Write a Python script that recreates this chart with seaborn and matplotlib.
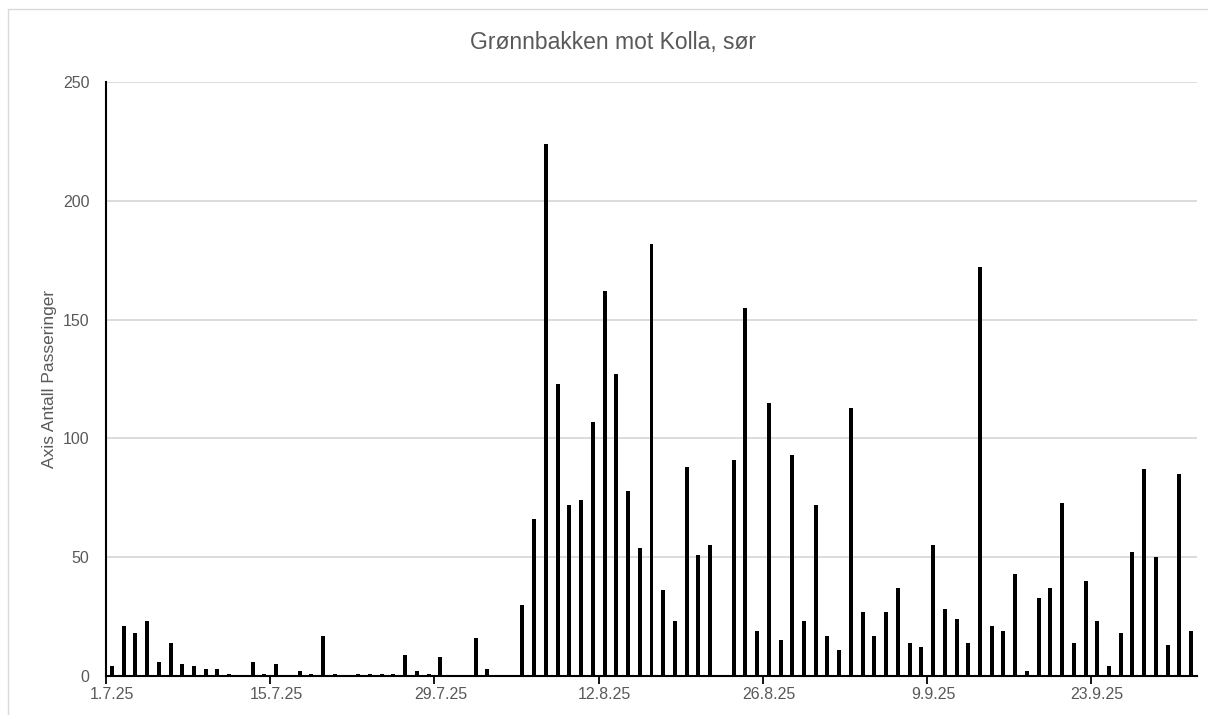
import matplotlib
matplotlib.use("Agg")
import matplotlib.pyplot as plt
from matplotlib.lines import Line2D
import seaborn as sns
import pandas as pd
import numpy as np

# ---- data ----
dates = pd.date_range("2025-07-01", periods=93, freq="D")
values = [4, 21, 18, 23, 6, 14, 5, 4, 3, 3,
          1, 0, 6, 1, 5, 0, 2, 1, 17, 1,
          0, 1, 1, 1, 1, 9, 2, 1, 8, 0,
          0, 16, 3, 0, 0, 30, 66, 224, 123, 72,
          74, 107, 162, 127, 78, 54, 182, 36, 23, 88,
          51, 55, 0, 91, 155, 19, 115, 15, 93, 23,
          72, 17, 11, 113, 27, 17, 27, 37, 14, 12,
          55, 28, 24, 14, 172, 21, 19, 43, 2, 33,
          37, 73, 14, 40, 23, 4, 18, 52, 87, 50,
          13, 85, 19]
tick_labels = ["1.7.25", "15.7.25", "29.7.25", "12.8.25", "26.8.25", "9.9.25", "23.9.25"]
y_ticks = [0, 50, 100, 150, 200, 250]
title = "Grønnbakken mot Kolla, sør"
ylabel = "Axis Antall Passeringer"

df = pd.DataFrame({"dato": [d.strftime("%d.%m.%y") for d in dates], "antall": values})

sns.set_theme(style="white")
plt.rcParams["font.family"] = ["Liberation Sans", "DejaVu Sans"]

TXT = "#595959"
fig = plt.figure(figsize=(12.08, 7.15), dpi=100)
ax = fig.add_axes([106 / 1208, 39 / 715, (1197 - 106) / 1208, (676 - 82) / 715])

sns.barplot(data=df, x="dato", y="antall", color="black", saturation=1,
            width=0.34, linewidth=0, ax=ax, order=list(df["dato"]))

ax.set_xlim(-0.5, len(values) - 0.5)
ax.set_ylim(0, 250)
ax.set_yticks(y_ticks)
ax.set_yticklabels([str(v) for v in y_ticks], color=TXT, fontsize=11.5)
ax.tick_params(axis="y", length=0, pad=12)

# labels centred on day slots, tick marks at slot boundaries
label_pos = [0, 14, 28, 42, 56, 70, 84]
ax.set_xticks(label_pos)
ax.set_xticklabels(tick_labels, color=TXT, fontsize=11.5)
ax.tick_params(axis="x", which="major", length=0, pad=8)
ax.set_xticks([p - 0.5 for p in label_pos], minor=True)
ax.tick_params(axis="x", which="minor", length=6, width=1.3, color="black", direction="out", bottom=True)

ax.grid(axis="y", color="#d9d9d9", linewidth=1.3)
ax.set_axisbelow(True)
for s in ["top", "right"]:
    ax.spines[s].set_visible(False)
ax.spines["left"].set_color("black")
ax.spines["left"].set_linewidth(1.5)
ax.spines["bottom"].set_color("black")
ax.spines["bottom"].set_linewidth(1.5)

ax.set_xlabel("")
ax.set_ylabel(ylabel, color=TXT, fontsize=12.5, labelpad=4)

fig.text(613 / 1208, 1 - 42 / 715, title, ha="center", va="center", color=TXT, fontsize=16.5)

# chart-area border (light grey)
fig.add_artist(Line2D([8 / 1208, 1.0], [1 - 9 / 715, 1 - 9 / 715], transform=fig.transFigure, color="#d9d9d9", lw=1))
fig.add_artist(Line2D([8 / 1208, 8 / 1208], [0, 1 - 9 / 715], transform=fig.transFigure, color="#d9d9d9", lw=1))

fig.savefig("out.png", dpi=100, facecolor="white")
